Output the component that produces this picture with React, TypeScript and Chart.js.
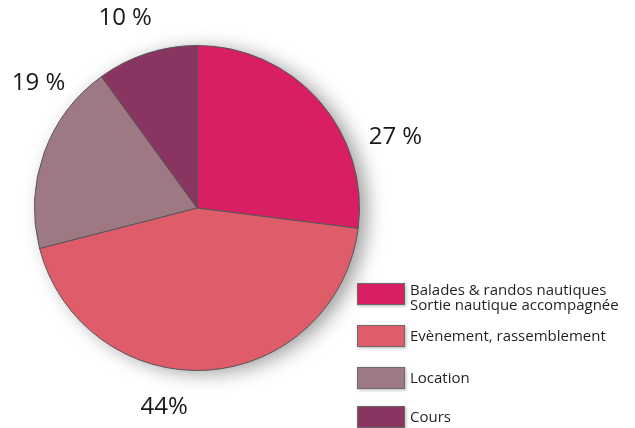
import React, { useEffect, useRef } from "react";
import { Chart, registerables } from "chart.js";

Chart.register(...registerables);

const categories: string[][] = [
  ["Balades & randos nautiques", "Sortie nautique accompagnée"],
  ["Evènement, rassemblement"],
  ["Location"],
  ["Cours"],
];
const values: number[] = [27, 44, 19, 10];
const valueLabels: string[] = ["27 %", "44%", "19 %", "10 %"];
const colors: string[] = ["#D81F64", "#DF5C6A", "#9E7984", "#8A3462"];

// layout (label offsets relative to pie centre, in radius units)
const labelOffsets: [number, number][] = [
  [1.221, -0.436],
  [-0.202, 1.227],
  [-0.975, -0.767],
  [-0.442, -1.166],
];
const legendRowTops: number[] = [283, 325, 367, 406];

const overlayPlugin = {
  id: "overlay",
  beforeDatasetsDraw(chart: any) {
    const meta = chart.getDatasetMeta(0);
    const arc = meta.data[0];
    if (!arc) return;
    const ctx = chart.ctx;
    ctx.save();
    ctx.shadowColor = "rgba(0,0,0,0.4)";
    ctx.shadowBlur = 20;
    ctx.shadowOffsetX = 8;
    ctx.shadowOffsetY = 3;
    ctx.fillStyle = "#ffffff";
    ctx.beginPath();
    ctx.arc(arc.x, arc.y, arc.outerRadius - 1, 0, Math.PI * 2);
    ctx.fill();
    ctx.restore();
  },
  afterDraw(chart: any) {
    const ctx = chart.ctx;
    const meta = chart.getDatasetMeta(0);
    ctx.save();
    // percentage labels
    ctx.fillStyle = "#1a1718";
    ctx.font = "500 24px 'Open Sans'";
    ctx.textAlign = "center";
    ctx.textBaseline = "middle";
    meta.data.forEach((arc: any, i: number) => {
      const [fx, fy] = labelOffsets[i];
      const r = arc.outerRadius;
      ctx.fillText(valueLabels[i], arc.x + fx * r, arc.y + fy * r);
    });
    // legend
    const boxX = 357, boxW = 48, boxH = 22, textX = 410;
    ctx.textAlign = "left";
    ctx.textBaseline = "alphabetic";
    ctx.font = "15px 'Open Sans'";
    categories.forEach((lines, i) => {
      const top = legendRowTops[i];
      ctx.save();
      ctx.shadowColor = "rgba(0,0,0,0.3)";
      ctx.shadowBlur = 3;
      ctx.shadowOffsetX = 1;
      ctx.shadowOffsetY = 1;
      ctx.fillStyle = colors[i];
      ctx.fillRect(boxX, top, boxW, boxH);
      ctx.restore();
      ctx.strokeStyle = "#6b6b6b";
      ctx.lineWidth = 1;
      ctx.strokeRect(boxX + 0.5, top + 0.5, boxW - 1, boxH - 1);
      ctx.fillStyle = "#231f20";
      if (lines.length === 2) {
        ctx.fillText(lines[0], textX, top + 12, 200);
        ctx.fillText(lines[1], textX, top + 27, 218);
      } else {
        ctx.fillText(lines[0], textX, top + 16, 198);
      }
    });
    ctx.restore();
  },
};

export default function App() {
  const ref = useRef<HTMLCanvasElement | null>(null);
  useEffect(() => {
    if (!ref.current) return;
    const chart = new Chart(ref.current, {
      type: "pie",
      data: {
        labels: categories.map((l) => l.join(" ")),
        datasets: [
          {
            data: values,
            backgroundColor: colors,
            borderColor: "#555555",
            borderWidth: 1,
          },
        ],
      },
      options: {
        responsive: false,
        animation: false,
        layout: { padding: { left: 34, right: 275, top: 45, bottom: 57 } },
        plugins: {
          legend: { display: false },
          tooltip: { enabled: false },
          title: { display: false },
        },
      },
      plugins: [overlayPlugin],
    });
    return () => chart.destroy();
  }, []);
  return (
    <div style={{ position: "absolute", left: 0, top: 0, width: 635, height: 428, background: "#fff" }}>
      <canvas ref={ref} width={635} height={428} style={{ display: "block" }} />
    </div>
  );
}
